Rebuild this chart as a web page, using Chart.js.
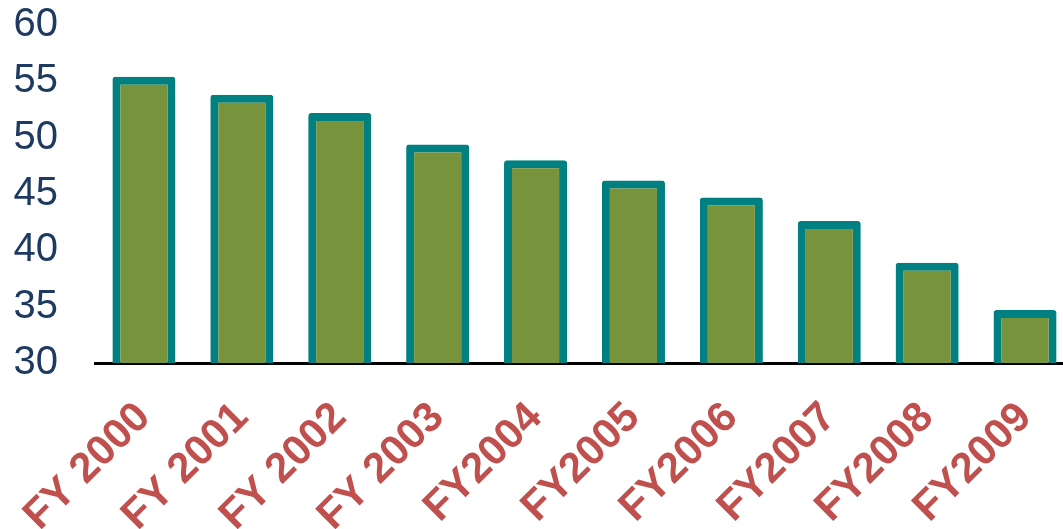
<!DOCTYPE html>
<html>
<head>
<meta charset="utf-8">
<script src="https://cdn.jsdelivr.net/npm/chart.js@4"></script>
<style>
    html, body { margin: 0; padding: 0; overflow: hidden; background: #ffffff; }
    #wrap { position: absolute; left: 0; top: 0; width: 1074px; height: 529px; }
</style>
</head>
<body>
<div id="wrap"><canvas id="fyGraph"></canvas></div>
<script>
var fiscalYears = ["FY 2000", "FY 2001", "FY 2002", "FY 2003", "FY2004", "FY2005", "FY2006", "FY2007", "FY2008", "FY2009"];
var fyValues = [55.4, 53.8, 52.2, 49.4, 48.0, 46.2, 44.7, 42.6, 38.9, 34.7];
var yMin = 30;
var yMax = 60;
var yStep = 5;

var barFill = "#77933C";
var barBorder = "#008080";
var yLabelColor = "#1F3A60";
var xLabelColor = "#C0504D";

function create_fy_graph() {
    var graphData = {
        labels: fiscalYears,
        datasets: [
            {
                data: fyValues,
                backgroundColor: barFill,
                borderColor: barBorder,
                borderWidth: 8,
                borderSkipped: false,
                borderRadius: 3,
                barPercentage: 0.644,
                categoryPercentage: 1.0,
            },
        ],
    };
    var config = {
        type: "bar",
        data: graphData,
        options: {
            responsive: true,
            maintainAspectRatio: false,
            animation: false,
            layout: { padding: { top: 25, left: 0, right: 0, bottom: 0 } },
            plugins: {
                legend: { display: false },
                tooltip: { enabled: false },
            },
            scales: {
                x: {
                    grid: { display: false },
                    border: { display: true, color: "#000000", width: 3 },
                    ticks: {
                        color: xLabelColor,
                        font: { family: "Liberation Sans, Arial, sans-serif", size: 42, weight: "bold" },
                        minRotation: 45,
                        maxRotation: 45,
                        padding: 22,
                        autoSkip: false,
                    },
                    // fixed height, no extra side padding for rotated labels
                    afterFit: function (scale) {
                        scale.height = 166;
                        scale.paddingLeft = 0;
                        scale.paddingRight = 0;
                    },
                },
                y: {
                    min: yMin,
                    max: yMax,
                    grid: { display: false },
                    border: { display: false },
                    ticks: {
                        stepSize: yStep,
                        color: yLabelColor,
                        padding: 29,
                        font: { family: "Liberation Sans, Arial, sans-serif", size: 40 },
                    },
                    afterFit: function (scale) {
                        scale.width = 95;
                        scale.paddingTop = 0;
                        scale.paddingBottom = 0;
                    },
                },
            },
        },
    };
    new Chart("fyGraph", config);
}

create_fy_graph();
</script>
</body>
</html>
